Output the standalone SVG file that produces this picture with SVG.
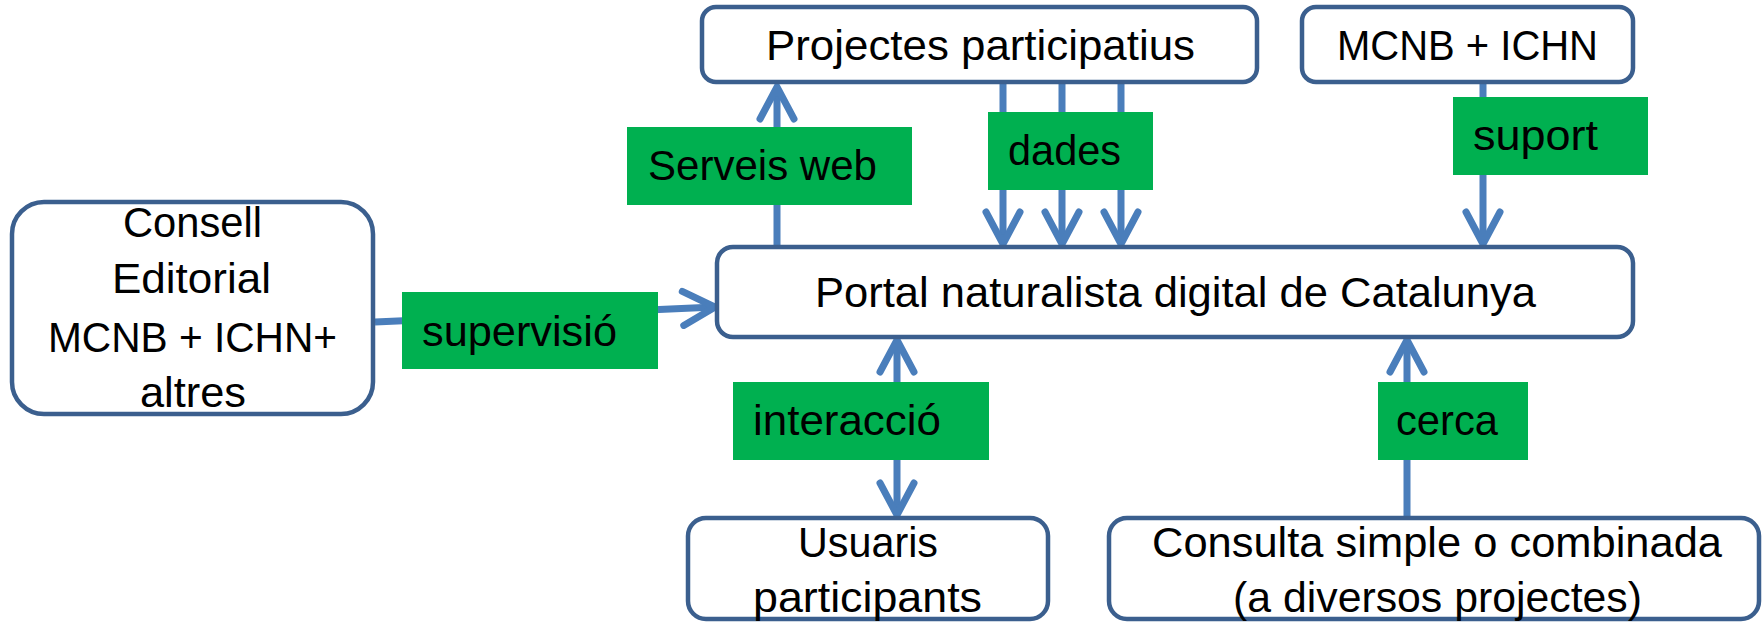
<svg xmlns="http://www.w3.org/2000/svg" width="1762" height="625" viewBox="0 0 1762 625">
<style>
.box{fill:#ffffff;stroke:#3B5F8E;stroke-width:4.5}
.lbl{fill:#00B050}
.con{fill:none;stroke:#4A7EBB;stroke-width:7}
text{font-family:"Liberation Sans",Arial,sans-serif;font-size:42px;fill:#000000}
</style>
<defs>
<marker id="ah" markerUnits="userSpaceOnUse" markerWidth="50" markerHeight="50" viewBox="-40 -25 50 50" refX="0" refY="0" orient="auto-start-reverse" overflow="visible">
<path d="M-32,-17 L0,0 L-32,17" fill="none" stroke="#4A7EBB" stroke-width="7" stroke-linecap="round" stroke-linejoin="miter"/>
</marker>
</defs>
<rect width="1762" height="625" fill="#ffffff"/>
<g id="connectors">
<line class="con" x1="777" y1="245" x2="777" y2="87" marker-end="url(#ah)"/>
<line class="con" x1="1003" y1="84" x2="1003" y2="244" marker-end="url(#ah)"/>
<line class="con" x1="1062" y1="84" x2="1062" y2="244" marker-end="url(#ah)"/>
<line class="con" x1="1121" y1="84" x2="1121" y2="244" marker-end="url(#ah)"/>
<line class="con" x1="1483" y1="84" x2="1483" y2="244" marker-end="url(#ah)"/>
<line class="con" x1="375" y1="322" x2="715" y2="307" marker-end="url(#ah)"/>
<line class="con" x1="897" y1="340" x2="897" y2="515" marker-start="url(#ah)" marker-end="url(#ah)"/>
<line class="con" x1="1407" y1="516" x2="1407" y2="340" marker-end="url(#ah)"/>
</g>
<g id="labels">
<rect class="lbl" x="627" y="127" width="285" height="78"/>
<text x="648" y="180" textLength="229" lengthAdjust="spacingAndGlyphs">Serveis web</text>
<rect class="lbl" x="988" y="112" width="165" height="78"/>
<text x="1008" y="165" textLength="113" lengthAdjust="spacingAndGlyphs">dades</text>
<rect class="lbl" x="1453" y="97" width="195" height="78"/>
<text x="1473" y="150" textLength="125" lengthAdjust="spacingAndGlyphs">suport</text>
<rect class="lbl" x="402" y="292" width="256" height="77"/>
<text x="422" y="346" textLength="195" lengthAdjust="spacingAndGlyphs">supervisió</text>
<rect class="lbl" x="733" y="382" width="256" height="78"/>
<text x="753" y="435" textLength="188" lengthAdjust="spacingAndGlyphs">interacció</text>
<rect class="lbl" x="1378" y="382" width="150" height="78"/>
<text x="1396" y="435" textLength="102" lengthAdjust="spacingAndGlyphs">cerca</text>
</g>
<g id="consell">
<rect class="box" x="12" y="202" width="361" height="212" rx="32"/>
<text x="123" y="237" textLength="139" lengthAdjust="spacingAndGlyphs">Consell</text>
<text x="112" y="293" textLength="159" lengthAdjust="spacingAndGlyphs">Editorial</text>
<text x="48" y="352" textLength="289" lengthAdjust="spacingAndGlyphs">MCNB + ICHN+</text>
<text x="140" y="407" textLength="106" lengthAdjust="spacingAndGlyphs">altres</text>
</g>
<g id="projectes">
<rect class="box" x="702" y="7" width="555" height="75" rx="14"/>
<text x="766" y="60" textLength="429" lengthAdjust="spacingAndGlyphs">Projectes participatius</text>
</g>
<g id="mcnb">
<rect class="box" x="1302" y="7" width="331" height="75" rx="14"/>
<text x="1337" y="60" textLength="261" lengthAdjust="spacingAndGlyphs">MCNB + ICHN</text>
</g>
<g id="portal">
<rect class="box" x="717" y="247" width="916" height="90" rx="16"/>
<text x="815" y="307" textLength="721" lengthAdjust="spacingAndGlyphs">Portal naturalista digital de Catalunya</text>
</g>
<g id="usuaris">
<rect class="box" x="688" y="518" width="360" height="101" rx="18"/>
<text x="798" y="557" textLength="140" lengthAdjust="spacingAndGlyphs">Usuaris</text>
<text x="753" y="612" textLength="229" lengthAdjust="spacingAndGlyphs">participants</text>
</g>
<g id="consulta">
<rect class="box" x="1109" y="518" width="650" height="101" rx="18"/>
<text x="1152" y="557" textLength="570" lengthAdjust="spacingAndGlyphs">Consulta simple o combinada</text>
<text x="1233" y="612" textLength="409" lengthAdjust="spacingAndGlyphs">(a diversos projectes)</text>
</g>
</svg>
